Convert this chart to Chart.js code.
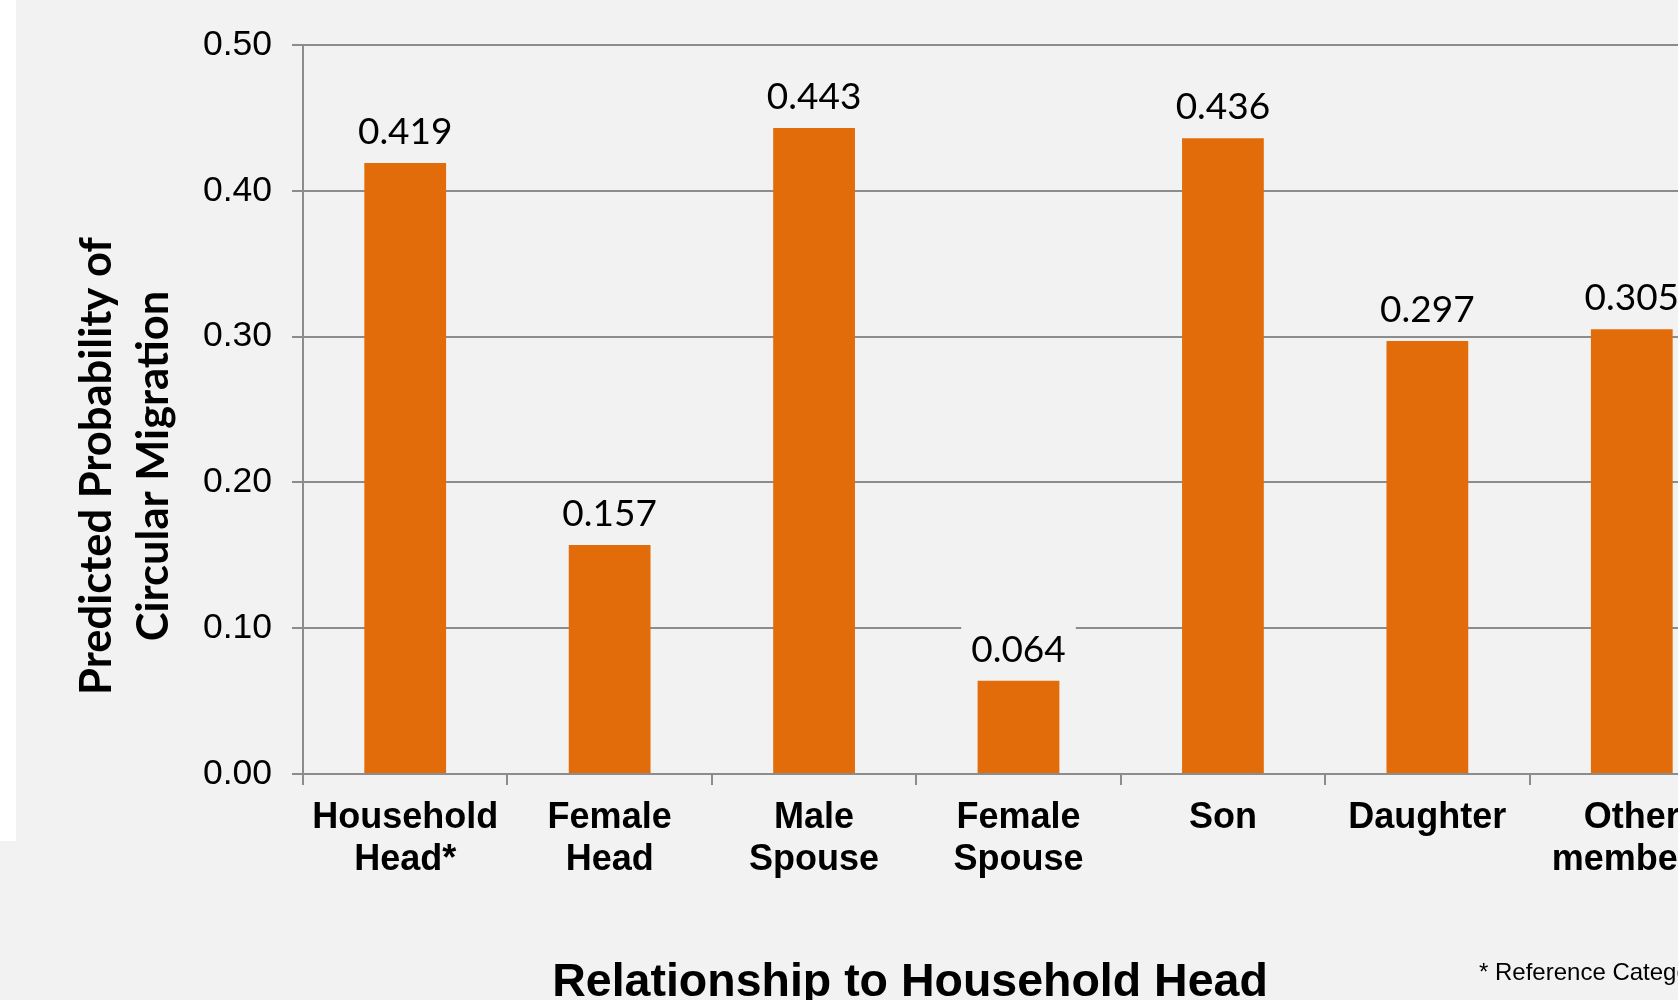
<!DOCTYPE html>
<html lang="en">

<head>
    <meta charset="UTF-8">
    <title>Predicted Probability of Circular Migration</title>
    <script src="https://cdn.jsdelivr.net/npm/chart.js@4.4.1/dist/chart.umd.min.js"></script>
    <style>
        html, body { margin: 0; padding: 0; background: #f2f2f2; overflow: hidden; }
        body { width: 1678px; height: 1000px; position: relative; }
        #strip { position: absolute; left: 0; top: 0; width: 16px; height: 841px; background: #fff; }
        #wrap { position: absolute; left: 0; top: 0; width: 1760px; height: 1000px; }
    </style>
</head>

<body>
    <div id="strip"></div>
    <div id="wrap"><canvas id="chart"></canvas></div>

    <script>
        // data ------------------------------------------------------
        const categories = [
            ['Household', 'Head*'],
            ['Female', 'Head'],
            ['Male', 'Spouse'],
            ['Female', 'Spouse'],
            'Son',
            'Daughter',
            ['Other', 'members']
        ]
        const probabilities = [0.419, 0.157, 0.443, 0.064, 0.436, 0.297, 0.305]
        const yTickLabels = ['0.00', '0.10', '0.20', '0.30', '0.40', '0.50']

        const yTitle = ['Predicted Probability of', 'Circular Migration']
        const xTitle = 'Relationship to Household Head'
        const footnote = '* Reference Category'

        const orange = '#e36c0a'
        const gridGrey = '#8c8c8c'

        // value labels above bars + free text ----------------------
        const labelPlugin = {
            id: 'labels',
            afterDatasetsDraw(chart) {
                const ctx = chart.ctx
                const meta = chart.getDatasetMeta(0)
                ctx.save()
                ctx.font = '37px Lato'
                ctx.textAlign = 'center'
                ctx.textBaseline = 'alphabetic'
                meta.data.forEach((bar, i) => {
                    const txt = probabilities[i].toFixed(3)
                    const w = ctx.measureText(txt).width
                    const base = bar.y - 19
                    ctx.fillStyle = '#f2f2f2'
                    ctx.fillRect(bar.x - w / 2 - 10, base - 38, w + 20, 46)
                    ctx.fillStyle = '#000'
                    ctx.fillText(txt, bar.x, base)
                })
                ctx.restore()
            },
            afterDraw(chart) {
                const ctx = chart.ctx
                ctx.save()
                ctx.fillStyle = '#000'

                // y title, rotated
                ctx.save()
                ctx.font = 'bold 43.5px Lato'
                ctx.textAlign = 'center'
                ctx.textBaseline = 'middle'
                ctx.translate(97, 466)
                ctx.rotate(-Math.PI / 2)
                ctx.fillText(yTitle[0], 0, 0)
                ctx.fillText(yTitle[1], 0, 57)
                ctx.restore()

                ctx.font = 'bold 46.5px "Liberation Sans"'
                ctx.textAlign = 'center'
                ctx.textBaseline = 'alphabetic'
                ctx.fillText(xTitle, 910, 996)

                ctx.font = '24px "Liberation Sans"'
                ctx.textAlign = 'left'
                ctx.fillText(footnote, 1479, 980)
                ctx.restore()
            }
        }

        const ctx = document.getElementById('chart').getContext('2d')
        const myChart = new Chart(ctx, {
            type: 'bar',
            data: {
                labels: categories,
                datasets: [{
                    data: probabilities,
                    backgroundColor: orange,
                    borderWidth: 0,
                    barPercentage: 0.4,
                    categoryPercentage: 1
                }]
            },
            options: {
                responsive: true,
                maintainAspectRatio: false,
                animation: false,
                layout: {
                    padding: { top: 45, right: 26, bottom: 0, left: 0 }
                },
                plugins: {
                    legend: { display: false },
                    tooltip: { enabled: false }
                },
                scales: {
                    x: {
                        afterFit(scale) { scale.height = 226 },
                        grid: {
                            offset: true,
                            drawOnChartArea: false,
                            drawTicks: true,
                            tickLength: 11,
                            color: gridGrey,
                            lineWidth: 2
                        },
                        border: { color: gridGrey, width: 2 },
                        ticks: {
                            color: '#000',
                            padding: 12,
                            maxRotation: 0,
                            autoSkip: false,
                            font: { family: 'Liberation Sans', size: 36, weight: 'bold', lineHeight: 1.17 }
                        }
                    },
                    y: {
                        min: 0,
                        max: 0.5,
                        afterFit(scale) { scale.width = 303 },
                        grid: {
                            color: gridGrey,
                            lineWidth: 2,
                            drawTicks: true,
                            tickLength: 11
                        },
                        border: { color: gridGrey, width: 2 },
                        ticks: {
                            stepSize: 0.1,
                            color: '#000',
                            padding: 20,
                            font: { family: 'Liberation Sans', size: 35.5 },
                            callback: (v, i) => yTickLabels[i]
                        }
                    }
                }
            },
            plugins: [labelPlugin]
        });
    </script>

</body>

</html>
